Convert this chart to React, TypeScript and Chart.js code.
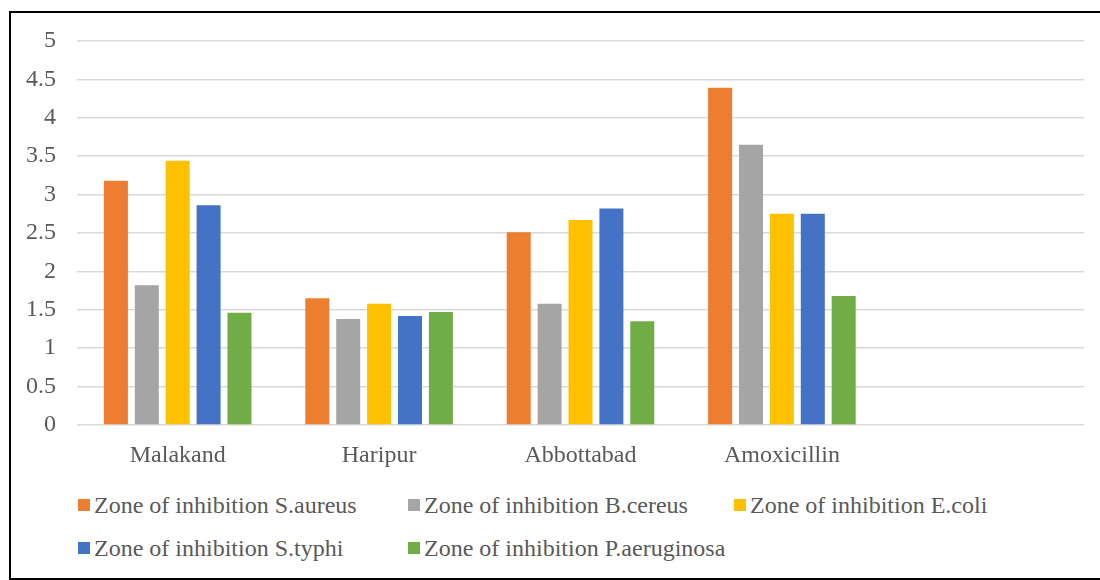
import React, { useEffect, useRef } from "react";
import { Chart, registerables } from "chart.js";

Chart.register(...registerables);

const categories = ["Malakand", "Haripur", "Abbottabad", "Amoxicillin", ""];
const seriesNames = [
  "Zone of inhibition S.aureus",
  "Zone of inhibition B.cereus",
  "Zone of inhibition E.coli",
  "Zone of inhibition S.typhi",
  "Zone of inhibition P.aeruginosa",
];
const sAureus = [3.18, 1.65, 2.51, 4.39, null];
const bCereus = [1.82, 1.38, 1.58, 3.65, null];
const eColi = [3.44, 1.58, 2.67, 2.75, null];
const sTyphi = [2.86, 1.42, 2.82, 2.75, null];
const pAeruginosa = [1.46, 1.47, 1.35, 1.68, null];
const colors = ["#ED7D31", "#A5A5A5", "#FFC000", "#4472C4", "#70AD47"];

const FONT = "Liberation Serif";
const TEXT = "#595959";

export default function App() {
  const ref = useRef<HTMLCanvasElement | null>(null);

  useEffect(() => {
    if (!ref.current) return;
    const values = [sAureus, bCereus, eColi, sTyphi, pAeruginosa];
    const chart = new Chart(ref.current, {
      type: "bar",
      data: {
        labels: categories,
        datasets: values.map((d, i) => ({
          label: seriesNames[i],
          data: d,
          backgroundColor: colors[i],
          borderWidth: 0,
          categoryPercentage: 0.767,
          barPercentage: 0.777,
        })),
      },
      options: {
        animation: false,
        responsive: false,
        maintainAspectRatio: false,
        layout: { padding: { left: 0, right: 16, top: 41, bottom: 0 } },
        plugins: { legend: { display: false }, tooltip: { enabled: false } },
        scales: {
          x: {
            grid: { display: false, drawTicks: false },
            border: { display: false },
            ticks: { color: TEXT, font: { family: FONT, size: 24 }, padding: 16, maxRotation: 0, autoSkip: false },
            afterFit: (s: any) => { s.height = 45; },
          },
          y: {
            min: 0,
            max: 5,
            ticks: {
              stepSize: 0.5,
              color: TEXT,
              font: { family: FONT, size: 24 },
              padding: 21,
              callback: (v: any) => String(Math.round(Number(v) * 10) / 10),
            },
            grid: { color: "#D9D9D9", lineWidth: 1.5, drawTicks: false },
            border: { display: false },
            afterFit: (s: any) => { s.width = 77; },
          },
        },
      },
    });
    return () => chart.destroy();
  }, []);

  const legendPos = [
    [78, 505],
    [408, 505],
    [734, 505],
    [78, 548],
    [408, 548],
  ];

  return (
    <div style={{ position: "fixed", left: 0, top: 0, width: 1100, height: 580, overflow: "hidden", background: "#fff" }}>
      <div
        style={{
          position: "absolute",
          left: 9,
          top: 11,
          width: 1200,
          height: 569,
          boxSizing: "border-box",
          borderTop: "2px solid #000",
          borderLeft: "2px solid #000",
          borderBottom: "2px solid #000",
        }}
      />
      <canvas ref={ref} width={1100} height={470} style={{ position: "absolute", left: 0, top: 0, width: 1100, height: 470 }} />
      {seriesNames.map((name, i) => (
        <div
          key={name}
          style={{
            position: "absolute",
            left: legendPos[i][0],
            top: legendPos[i][1] - 15,
            height: 30,
            display: "flex",
            alignItems: "center",
            whiteSpace: "nowrap",
          }}
        >
          <span style={{ display: "inline-block", width: 12, height: 12, background: colors[i], marginRight: 4 }} />
          <span style={{ fontFamily: FONT, fontSize: 24, lineHeight: "30px", color: TEXT }}>{name}</span>
        </div>
      ))}
    </div>
  );
}
